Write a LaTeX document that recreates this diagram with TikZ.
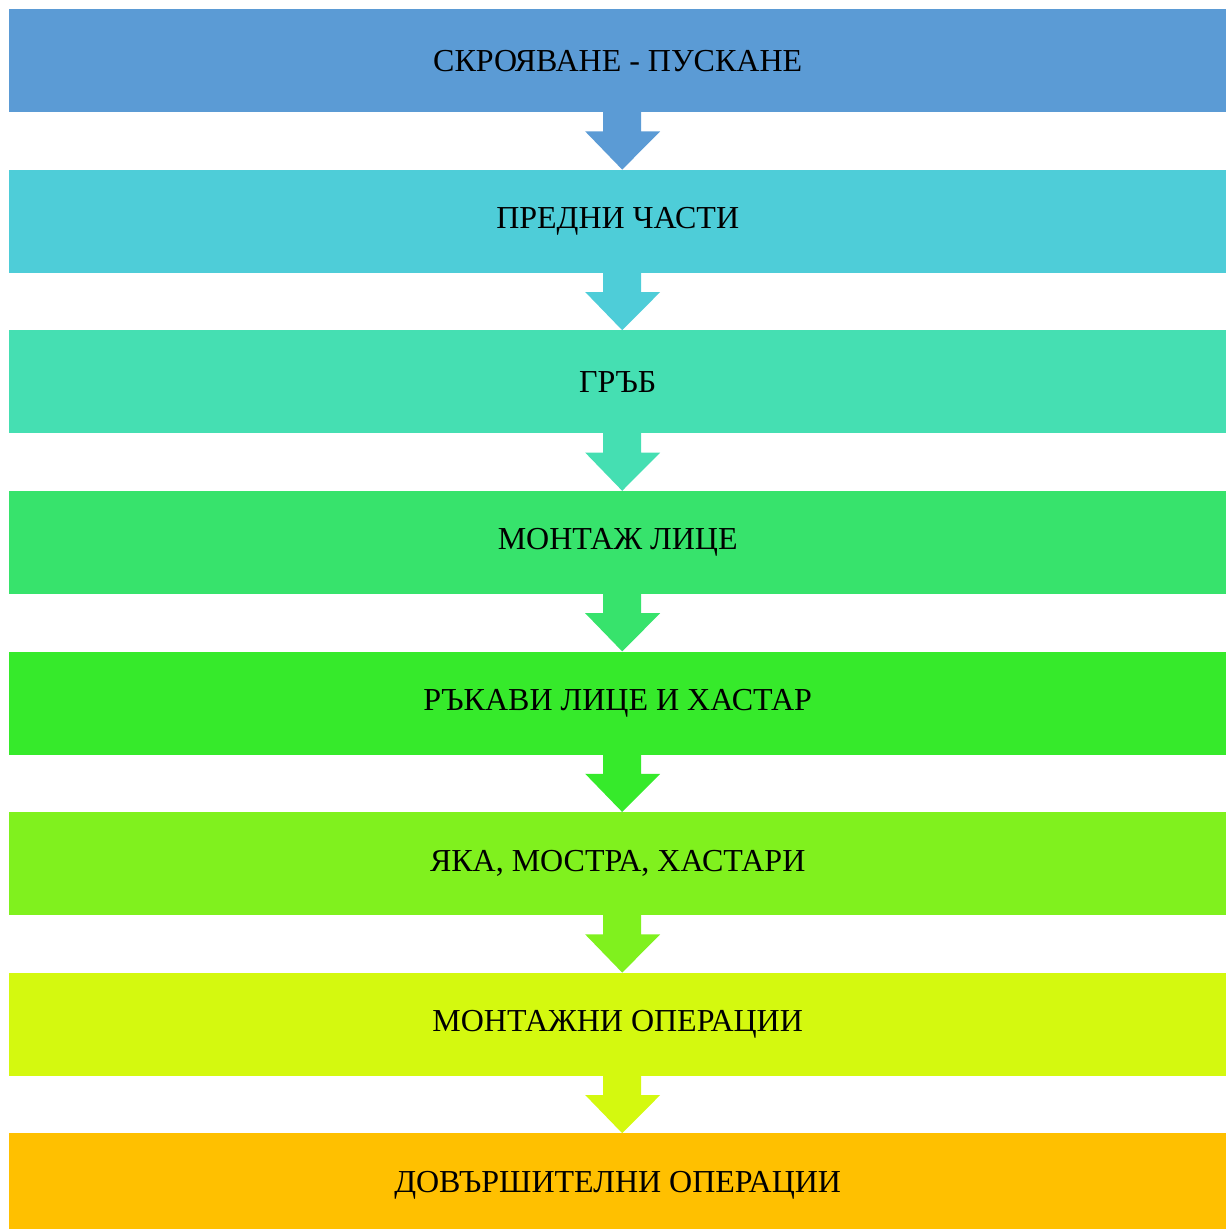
\documentclass[tikz,border=0pt]{standalone}
\usepackage{fontspec}
\setmainfont{Liberation Serif}
\usetikzlibrary{calc}

\definecolor{c1}{HTML}{5B9BD5}
\definecolor{c2}{HTML}{4ECDD8}
\definecolor{c3}{HTML}{45DFB2}
\definecolor{c4}{HTML}{37E36C}
\definecolor{c5}{HTML}{36EA2B}
\definecolor{c6}{HTML}{80F11E}
\definecolor{c7}{HTML}{D4F90F}
\definecolor{c8}{HTML}{FFC000}

\tikzset{stage/.style={anchor=north west, minimum width=1217pt, minimum height=103pt,
  inner sep=0pt, font=\fontsize{32}{32}\selectfont}}

\begin{document}
\begin{tikzpicture}[x=1pt,y=-1pt]
\useasboundingbox (0,0) rectangle (1226,1229);
% stages
\node[stage, fill=c1] (s1) at (9,9) {СКРОЯВАНЕ - ПУСКАНЕ};
\node[stage, fill=c2] (s2) at (9,169.6) {ПРЕДНИ ЧАСТИ};
\node[stage, fill=c3] (s3) at (9,330.2) {ГРЪБ};
\node[stage, fill=c4] (s4) at (9,490.8) {МОНТАЖ ЛИЦЕ};
\node[stage, fill=c5] (s5) at (9,651.4) {РЪКАВИ ЛИЦЕ И ХАСТАР};
\node[stage, fill=c6] (s6) at (9,812) {ЯКА, МОСТРА, ХАСТАРИ};
\node[stage, fill=c7] (s7) at (9,972.6) {МОНТАЖНИ ОПЕРАЦИИ};
\node[stage, fill=c8] (s8) at (9,1133.2) {ДОВЪРШИТЕЛНИ ОПЕРАЦИИ};
% arrows
\foreach \i/\j in {1/2,2/3,3/4,4/5,5/6,6/7,7/8}
  \fill[c\i] ($(s\i.south)+(-14.5,-1)$) -- ++(38,0) -- ++(0,20) -- ++(19,0)
    -- ($(s\j.north)+(4.5,0)$) -- ($(s\i.south)+(-32.5,19)$) -- ++(18,0) -- cycle;
\end{tikzpicture}
\end{document}
